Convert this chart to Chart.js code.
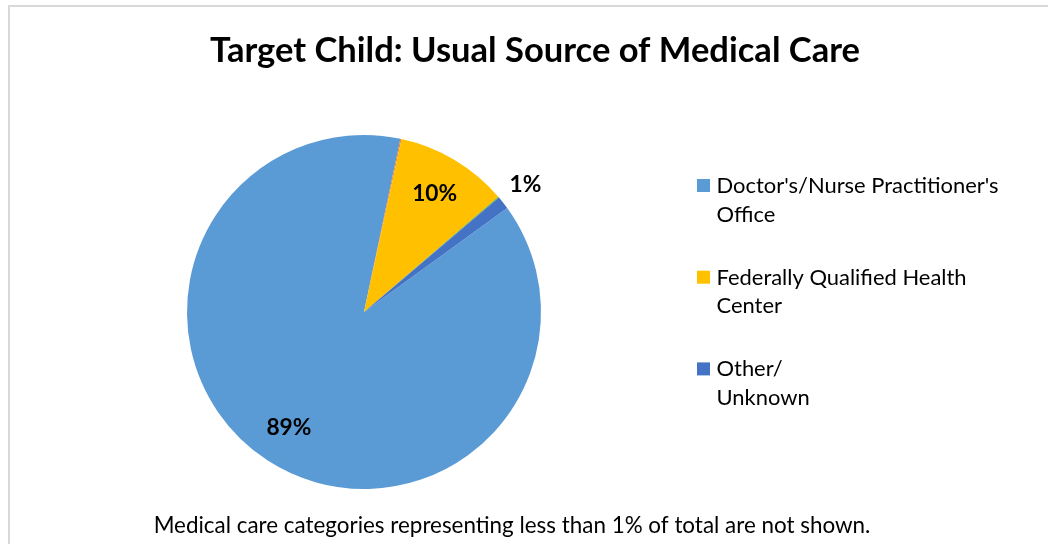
<!DOCTYPE html>
<html lang="en">
<head>
    <meta charset="UTF-8">
    <title>Target Child: Usual Source of Medical Care</title>
    <script src="https://cdn.jsdelivr.net/npm/chart.js"></script>
    <style>
        body { margin: 0; background: #fff; }
        #wrap { position: relative; width: 1048px; height: 544px; }
    </style>
</head>
<body>
<div id="wrap"><canvas id="pieCanvas"></canvas></div>
<script>
    // slices in workbook order, clockwise from the first slice
    const categories = ["Doctor's/Nurse Practitioner's Office", "Category under 1% (a)", "Federally Qualified Health Center", "Category under 1% (b)", "Other/ Unknown"];
    const sharePct = [88.3, 0.1, 10.3, 0.1, 1.2];
    const pctLabels = ["89%", "", "10%", "", "1%"];
    const sliceColors = ["#5B9BD5", "#ED7D31", "#FFC000", "#70AD47", "#4472C4"];
    // only slices of 1% or more are listed in the legend
    const legendIndex = [0, 2, 4];
    const legendLines = [["Doctor's/Nurse Practitioner's", "Office"], ["Federally Qualified Health", "Center"], ["Other/", "Unknown"]];
    const titleText = "Target Child: Usual Source of Medical Care";
    const footnoteText = "Medical care categories representing less than 1% of total are not shown.";

    const FONT = "Lato, 'Open Sans', sans-serif";

    // pick a font size so the text is as wide as in the source
    function fitFont(ctx, text, weight, width) {
        ctx.font = weight + ' 20px ' + FONT;
        const w = ctx.measureText(text).width;
        return weight + ' ' + (20 * width / w).toFixed(2) + 'px ' + FONT;
    }

    const decor = {
        id: 'decor',
        beforeDraw(chart) {
            const ctx = chart.ctx;
            ctx.save();
            ctx.fillStyle = '#d9d9d9';
            ctx.fillRect(8, 5, 2, chart.height);
            ctx.fillRect(8, 5, chart.width, 2);
            ctx.restore();
        },
        afterDraw(chart) {
            const ctx = chart.ctx;
            ctx.save();
            ctx.fillStyle = '#000';
            ctx.textBaseline = 'alphabetic';
            ctx.textAlign = 'center';

            ctx.font = fitFont(ctx, titleText, 'bold', 650);
            ctx.fillText(titleText, 535, 62);

            ctx.font = fitFont(ctx, footnoteText, 'normal', 717);
            ctx.fillText(footnoteText, 512, 533);

            // legend
            ctx.textAlign = 'left';
            ctx.font = fitFont(ctx, legendLines[0][0], 'normal', 282);
            legendIndex.forEach((idx, i) => {
                const y0 = 193 + i * 91.7;
                ctx.fillStyle = sliceColors[idx];
                ctx.fillRect(697, y0 - 14, 13, 13);
                ctx.fillStyle = '#000';
                legendLines[i].forEach((line, j) => ctx.fillText(line, 716.5, y0 + j * 28.5));
            });

            // percentage labels
            const meta = chart.getDatasetMeta(0);
            ctx.textAlign = 'center';
            ctx.textBaseline = 'middle';
            ctx.font = fitFont(ctx, '10%', 'bold', 45);
            meta.data.forEach((arc, i) => {
                if (!pctLabels[i]) return;
                const p = arc.getProps(['x', 'y', 'startAngle', 'endAngle', 'outerRadius'], true);
                const mid = (p.startAngle + p.endAngle) / 2;
                const k = sharePct[i] < 5 ? 1.16 : 0.78;
                ctx.fillText(pctLabels[i], p.x + Math.cos(mid) * p.outerRadius * k, p.y + Math.sin(mid) * p.outerRadius * k);
            });
            ctx.restore();
        }
    };

    const pieCtx = document.getElementById('pieCanvas').getContext('2d');
    new Chart(pieCtx, {
        type: 'pie',
        data: {
            labels: categories,
            datasets: [{
                data: sharePct,
                backgroundColor: sliceColors,
                borderWidth: 0
            }]
        },
        options: {
            responsive: true,
            maintainAspectRatio: false,
            animation: false,
            rotation: 54,
            layout: { padding: { left: 187, top: 135, right: 507, bottom: 55 } },
            plugins: {
                legend: { display: false },
                tooltip: { enabled: false }
            }
        },
        plugins: [decor]
    });
</script>
</body>
</html>
